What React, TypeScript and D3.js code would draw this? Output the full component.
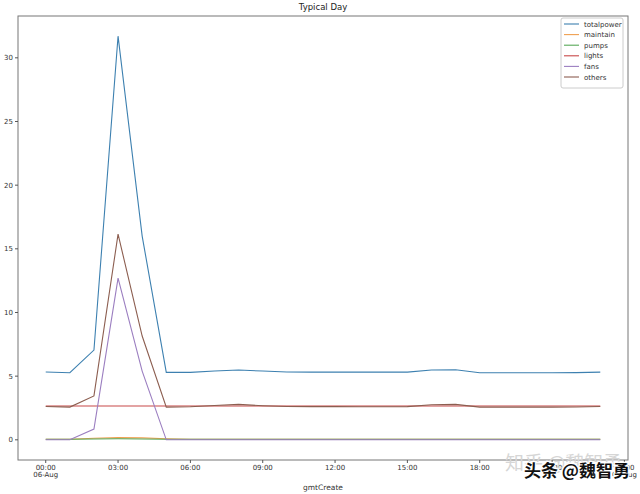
import React, { useEffect } from 'react'
import * as d3 from 'd3'

// hourly readings, 06-Aug 00:00 .. 23:00
const hours = d3.range(0, 24)
const totalpower = [5.33, 5.27, 7.05, 31.7, 16.0, 5.3, 5.3, 5.4, 5.48, 5.4, 5.33, 5.32, 5.32, 5.32, 5.32, 5.32, 5.48, 5.5, 5.27, 5.27, 5.27, 5.27, 5.28, 5.32]
const maintain = [0.05, 0.05, 0.12, 0.17, 0.15, 0.08, 0.05, 0.05, 0.05, 0.05, 0.05, 0.05, 0.05, 0.05, 0.05, 0.05, 0.05, 0.05, 0.05, 0.05, 0.05, 0.05, 0.05, 0.05]
const pumps = [0.04, 0.04, 0.06, 0.08, 0.07, 0.05, 0.04, 0.04, 0.04, 0.04, 0.04, 0.04, 0.04, 0.04, 0.04, 0.04, 0.04, 0.04, 0.04, 0.04, 0.04, 0.04, 0.04, 0.04]
const lights = [2.66, 2.66, 2.66, 2.66, 2.66, 2.66, 2.66, 2.66, 2.66, 2.66, 2.66, 2.66, 2.66, 2.66, 2.66, 2.66, 2.66, 2.66, 2.66, 2.66, 2.66, 2.66, 2.66, 2.66]
const fans = [0, 0, 0.85, 12.7, 5.4, 0, 0, 0, 0, 0, 0, 0, 0, 0, 0, 0, 0, 0, 0, 0, 0, 0, 0, 0]
const others = [2.62, 2.57, 3.45, 16.15, 8.15, 2.57, 2.6, 2.7, 2.78, 2.68, 2.62, 2.61, 2.61, 2.6, 2.6, 2.61, 2.76, 2.78, 2.57, 2.57, 2.57, 2.57, 2.58, 2.62]

const seriesNames = ['totalpower', 'maintain', 'pumps', 'lights', 'fans', 'others']
const seriesValues = [totalpower, maintain, pumps, lights, fans, others]
const seriesColors = ['#3d80b0', '#f0a050', '#58a858', '#c84848', '#9b7ec0', '#8c5e50']

const yTicks = [0, 5, 10, 15, 20, 25, 30]

const W = 640
const H = 494
const margin = { top: 16, right: 12, bottom: 34, left: 18 }

const App: React.FC = () => {
    useEffect(() => {
        document.body.style.margin = '0'
    }, [])

    const day = new Date(2019, 7, 6, 0, 0)
    const times = hours.map((h) => d3.timeHour.offset(day, h))

    // matplotlib style 5% padding on both axes
    const x0 = d3.timeMinute.offset(times[0], -69)
    const x1 = d3.timeMinute.offset(times[times.length - 1], 69)
    const x = d3.scaleTime().domain([x0, x1]).range([margin.left, W - margin.right])

    const yMax = d3.max(seriesValues.flat()) as number
    const yMin = 0
    const pad = (yMax - yMin) * 0.05
    const y = d3
        .scaleLinear()
        .domain([yMin - pad, yMax + pad])
        .range([H - margin.bottom, margin.top])

    const xTicks = d3.timeHour.every(3)!.range(times[0], d3.timeHour.offset(times[0], 25))

    const line = d3
        .line<number>()
        .x((_, i) => x(times[i]))
        .y((d) => y(d))

    const bottom = H - margin.bottom
    const fmtTime = d3.timeFormat('%H:%M')
    const fmtDate = d3.timeFormat('%d-%b')

    return (
        <svg width={W} height={H} style={{ display: 'block', fontFamily: 'DejaVu Sans' }}>
            <rect x={0} y={0} width={W} height={H} fill="#fff" />
            <text x={(margin.left + W - margin.right) / 2} y={10} textAnchor="middle" fontSize={8.5} fill="#222">
                Typical Day
            </text>

            {/* data lines */}
            {seriesValues.map((vals, i) => (
                <path key={seriesNames[i]} d={line(vals) || ''} fill="none" stroke={seriesColors[i]} strokeWidth={1.1} />
            ))}

            {/* frame */}
            <rect
                x={margin.left}
                y={margin.top}
                width={W - margin.left - margin.right}
                height={H - margin.top - margin.bottom}
                fill="none"
                stroke="#777"
                strokeWidth={1}
            />

            {/* y axis */}
            {yTicks.map((t) => (
                <g key={t}>
                    <line x1={margin.left - 3} x2={margin.left} y1={y(t)} y2={y(t)} stroke="#555" />
                    <text x={margin.left - 5} y={y(t) + 2.5} textAnchor="end" fontSize={7} fill="#333">
                        {t}
                    </text>
                </g>
            ))}

            {/* x axis */}
            {xTicks.map((t) => (
                <g key={+t}>
                    <line x1={x(t)} x2={x(t)} y1={bottom} y2={bottom + 3} stroke="#555" />
                    <text x={x(t)} y={bottom + 10} textAnchor="middle" fontSize={7} fill="#333">
                        {fmtTime(t)}
                    </text>
                    {t.getHours() === 0 && (
                        <text x={x(t)} y={bottom + 17} textAnchor="middle" fontSize={7} fill="#333">
                            {fmtDate(t)}
                        </text>
                    )}
                </g>
            ))}
            <text x={(margin.left + W - margin.right) / 2} y={bottom + 30} textAnchor="middle" fontSize={7.5} fill="#333">
                gmtCreate
            </text>

            {/* legend */}
            <rect x={561} y={18} width={62} height={70} fill="#fff" stroke="#ccc" rx={2} />
            {seriesNames.map((name, i) => (
                <g key={name} transform={`translate(564, ${24 + i * 10.6})`}>
                    <line x1={0} x2={15} y1={0} y2={0} stroke={seriesColors[i]} strokeWidth={1.1} />
                    <text x={20} y={2.5} fontSize={7} fill="#333">
                        {name}
                    </text>
                </g>
            ))}

            {/* watermarks */}
            <text x={505} y={470} fontSize={19} fill="#d6d6d6" fontFamily="Noto Sans CJK SC">
                知乎 @魏智勇
            </text>
            <text
                x={524}
                y={477}
                fontSize={17}
                fontWeight="bold"
                fill="#111"
                stroke="#fff"
                strokeWidth={2.5}
                paintOrder="stroke"
                fontFamily="Noto Sans CJK SC"
            >
                头条 @魏智勇
            </text>
        </svg>
    )
}

export default App
